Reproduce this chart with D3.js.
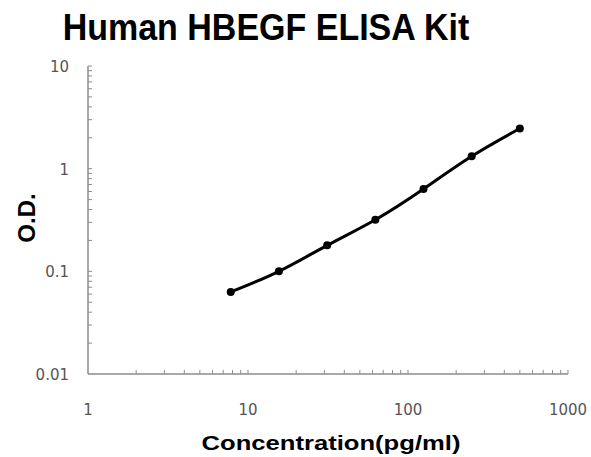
<!DOCTYPE html>
<html>
<head>
<meta charset="utf-8">
<script src="https://d3js.org/d3.v7.min.js"></script>
<style>
  body { margin: 0; background: #fff; }
  text { font-family: "Liberation Sans", Arial, sans-serif; }
  text.tick { font-family: "DejaVu Sans", sans-serif; }
</style>
</head>
<body>
<div id="chart"></div>
<script>
// standard curve readings
const concentrations = [7.8, 15.6, 31.25, 62.5, 125, 250, 500];
const odValues = [0.063, 0.1, 0.179, 0.318, 0.634, 1.32, 2.46];
const xTicks = [1, 10, 100, 1000];
const yTicks = [0.01, 0.1, 1, 10];

const width = 591, height = 457;
const margin = { top: 66, right: 23, bottom: 83, left: 88 };

const svg = d3.select("#chart")
    .append("svg")
    .attr("width", width)
    .attr("height", height);

const x = d3.scaleLog().domain([1, 1000]).range([margin.left, width - margin.right]);
const y = d3.scaleLog().domain([0.01, 10]).range([height - margin.bottom, margin.top]);

// minor ticks for each decade
const minorX = [];
for (let d = 1; d < 1000; d *= 10)
    for (let k = 2; k <= 10; k++) minorX.push(d * k);
const minorY = [];
for (let d = 0.01; d < 9; d *= 10)
    for (let k = 2; k <= 10; k++) minorY.push(+(d * k).toPrecision(3));

const axisColor = "#8c8c8c";

// x axis
const gx = svg.append("g");
gx.append("line")
    .attr("x1", x(1)).attr("x2", x(1000))
    .attr("y1", y(0.01)).attr("y2", y(0.01))
    .attr("stroke", axisColor).attr("stroke-width", 1.5);
gx.selectAll(".xt").data(minorX).enter().append("line")
    .attr("x1", d => x(d)).attr("x2", d => x(d))
    .attr("y1", y(0.01)).attr("y2", y(0.01) - 4)
    .attr("stroke", axisColor).attr("stroke-width", 1);
gx.selectAll(".xl").data(xTicks).enter().append("text")
    .attr("class", "tick")
    .attr("x", d => x(d))
    .attr("y", y(0.01) + 41)
    .attr("text-anchor", "middle")
    .attr("font-size", 15)
    .attr("fill", "#555")
    .text(d => d);

// y axis
const gy = svg.append("g");
gy.append("line")
    .attr("x1", x(1)).attr("x2", x(1))
    .attr("y1", y(0.01)).attr("y2", y(10))
    .attr("stroke", axisColor).attr("stroke-width", 1.5);
gy.selectAll(".yt").data(minorY).enter().append("line")
    .attr("x1", x(1)).attr("x2", x(1) + 4)
    .attr("y1", d => y(d)).attr("y2", d => y(d))
    .attr("stroke", axisColor).attr("stroke-width", 1);
gy.selectAll(".yl").data(yTicks).enter().append("text")
    .attr("class", "tick")
    .attr("x", x(1) - 19)
    .attr("y", d => y(d) + 6)
    .attr("text-anchor", "end")
    .attr("font-size", 15)
    .attr("fill", "#555")
    .text(d => d);

// curve
const pts = concentrations.map((c, i) => [x(c), y(odValues[i])]);
svg.append("path")
    .attr("d", d3.line().curve(d3.curveNatural)(pts))
    .attr("fill", "none")
    .attr("stroke", "#000")
    .attr("stroke-width", 3);
svg.selectAll(".pt").data(pts).enter().append("circle")
    .attr("cx", d => d[0]).attr("cy", d => d[1])
    .attr("r", 4)
    .attr("fill", "#000");

// titles
svg.append("text")
    .attr("transform", "translate(266,40) scale(1,1.08)")
    .attr("text-anchor", "middle")
    .attr("font-size", 34).attr("font-weight", "bold")
    .text("Human HBEGF ELISA Kit");
svg.append("text")
    .attr("transform", "translate(331,450) scale(1.22,1)")
    .attr("text-anchor", "middle")
    .attr("font-size", 21).attr("font-weight", "bold")
    .text("Concentration(pg/ml)");
svg.append("text")
    .attr("transform", "translate(35,218) rotate(-90)")
    .attr("text-anchor", "middle")
    .attr("font-size", 24).attr("font-weight", "bold")
    .text("O.D.");
</script>
</body>
</html>
